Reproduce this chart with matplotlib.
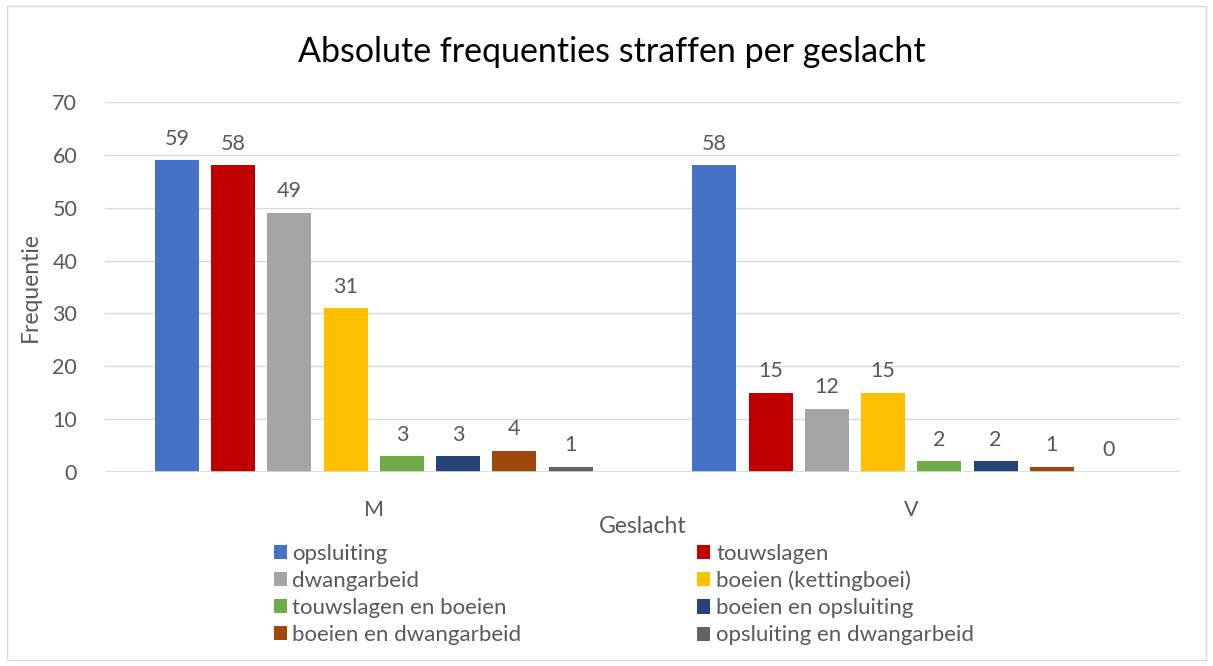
import numpy as np
import matplotlib.pyplot as plt
from matplotlib.patches import Rectangle

plt.rcParams['font.family'] = ['Lato', 'DejaVu Sans']

categories = ['M', 'V']
series = ['opsluiting', 'touwslagen', 'dwangarbeid', 'boeien (kettingboei)',
          'touwslagen en boeien', 'boeien en opsluiting', 'boeien en dwangarbeid',
          'opsluiting en dwangarbeid']
values = [
    [59, 58],
    [58, 15],
    [49, 12],
    [31, 15],
    [3, 2],
    [3, 2],
    [4, 1],
    [1, 0],
]
colors = ['#4472C4', '#C00000', '#A5A5A5', '#FFC000',
          '#70AD47', '#264478', '#9E480E', '#636363']

txt = '#595959'
grid = '#D9D9D9'

fig = plt.figure(figsize=(12.13, 6.66), dpi=100)
fig.patches.append(Rectangle((7 / 1213, 6 / 666), 1199 / 1213, 654 / 666,
                             transform=fig.transFigure, fill=False,
                             edgecolor=grid, linewidth=1))

ax = fig.add_axes([105 / 1213, 1 - 472 / 666, 1075 / 1213, 370 / 666])

x = np.arange(len(categories))
step = 0.1047
width = 0.082
handles = []
for i, (name, vals) in enumerate(zip(series, values)):
    pos = x + (i - 3.5) * step
    b = ax.bar(pos, vals, width, color=colors[i], label=name, zorder=3)
    handles.append(b)
    for px, v in zip(pos, vals):
        ax.text(px, v + 2.2, str(v), ha='center', va='bottom',
                fontsize=15.5, color=txt)

ax.set_xlim(-0.5, 1.5)
ax.set_ylim(0, 70)
ax.set_yticks(range(0, 71, 10))
ax.yaxis.grid(True, color=grid, linewidth=1, zorder=0)
for s in ax.spines.values():
    s.set_visible(False)
ax.axhline(0, color=grid, linewidth=1.2, zorder=4)
ax.set_xticks(x)
ax.set_xticklabels(categories)
ax.tick_params(axis='both', length=0, labelsize=15.5, labelcolor=txt)
ax.tick_params(axis='x', pad=20)
ax.tick_params(axis='y', pad=20)
ax.set_xlabel('Geslacht', fontsize=16.5, color=txt, labelpad=-3)
ax.set_ylabel('Frequentie', fontsize=16.5, color=txt, labelpad=8)

fig.text(612 / 1213, 1 - 52 / 666, 'Absolute frequenties straffen per geslacht',
         ha='center', va='center', fontsize=24.5, color='black')

order = [0, 2, 4, 6, 1, 3, 5, 7]
fig.legend([handles[k] for k in order], [series[k] for k in order],
           ncol=2, loc='upper left', bbox_to_anchor=(258 / 1213, 1 - 528 / 666),
           frameon=False, fontsize=16, labelcolor=txt,
           handlelength=0.6, handleheight=0.6, handletextpad=0.25,
           columnspacing=7.9, labelspacing=0.32, borderpad=0.2)

fig.savefig('out.png', dpi=100)
